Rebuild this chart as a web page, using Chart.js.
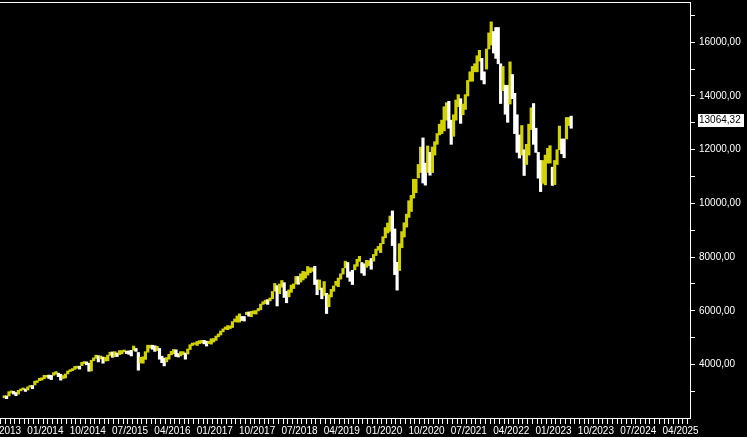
<!DOCTYPE html>
<html>
<head>
<meta charset="utf-8">
<script src="https://cdn.jsdelivr.net/npm/chart.js@4.4.1/dist/chart.umd.min.js"></script>
<style>
html, body { margin: 0; padding: 0; background: #000; }
canvas { display: block; }
</style>
</head>
<body>
<canvas id="chart" width="747" height="437"></canvas>
<script>
// two bars per month (low..high), first bar = first half of 04/2013
var firstMonth = 3; // month index, 0 = 01/2013

var lows = [
    2760, 2730, 2830, 2940, 2900, 2840, 2900, 3020, 3060, 3000, 3050, 3160, 3100, 3240, 3330, 3400, 3420, 3470,
    3530, 3480, 3440, 3600, 3640, 3550, 3420, 3480, 3500, 3650, 3740, 3770, 3820, 3860, 3830, 3960, 4030, 3990, 3750, 3760, 4140, 4230, 4100, 4210,
    4050, 4130, 4140, 4340, 4270, 4290, 4300, 4370, 4400, 4470, 4410, 4380, 4320, 4530, 4490, 3790, 4060, 4050, 4190, 4460, 4610, 4570, 4490, 4520,
    4200, 4070, 3950, 4100, 4200, 4360, 4400, 4300, 4280, 4320, 4370, 4200, 4390, 4560, 4710, 4750, 4710, 4780, 4800, 4770, 4690, 4780, 4760, 4840,
    4900, 5030, 5100, 5220, 5310, 5300, 5340, 5380, 5590, 5580, 5580, 5640, 5620, 5860, 5800, 5780, 5890, 5880, 6000, 6040, 6240, 6270, 6240, 6370,
    6450, 6730, 6180, 6640, 6880, 6500, 6300, 6520, 6690, 6830, 7000, 6990, 7070, 7150, 7220, 7330, 7420, 7470, 6980, 6600, 6790, 6450, 6570, 5900,
    6150, 6520, 6730, 6950, 6900, 7180, 7370, 7600, 7250, 7100, 6980, 7530, 7660, 7840, 7410, 7320, 7620, 7680, 7550, 7850, 8060, 8260, 8170, 8500,
    8720, 8900, 8960, 8430, 7350, 6770, 7500, 8350, 8750, 9120, 9480, 9700, 10200, 10400, 10950, 11150, 10760, 10680, 11150, 11050, 11150, 11800, 12200, 12550,
    12600, 12700, 13100, 12800, 12200, 12500, 13100, 13600, 12980, 13300, 13500, 14000, 14550, 14550, 14900, 14900, 15300, 14600, 14450, 15000, 15750, 15900, 15600, 15400,
    15200, 13720, 14200, 13320, 13020, 13700, 13900, 12600, 11900, 11690, 11800, 11040, 11450, 11800, 12750, 12200, 11900, 10940, 10440, 10750, 10690, 11500, 11500, 10670,
    10700, 11450, 12000, 11850, 11700, 12400, 12900, 12800
];
var highs = [
    2840, 2835, 2990, 3020, 3000, 2960, 3040, 3090, 3130, 3090, 3170, 3220, 3220, 3380, 3400, 3490, 3510, 3600,
    3600, 3610, 3600, 3700, 3740, 3680, 3640, 3590, 3650, 3760, 3810, 3850, 3930, 3940, 3940, 4080, 4110, 4100, 4050, 4160, 4250, 4350, 4330, 4320,
    4280, 4270, 4350, 4460, 4470, 4480, 4430, 4520, 4520, 4540, 4500, 4510, 4530, 4690, 4600, 4450, 4270, 4290, 4480, 4720, 4720, 4720, 4700, 4680,
    4600, 4310, 4240, 4260, 4380, 4490, 4560, 4550, 4410, 4480, 4480, 4430, 4580, 4740, 4800, 4810, 4860, 4890, 4900, 4900, 4870, 4870, 4960, 4970,
    5060, 5140, 5250, 5330, 5400, 5450, 5440, 5600, 5700, 5810, 5890, 5790, 5790, 5950, 5960, 5980, 6000, 6010, 6090, 6250, 6340, 6400, 6420, 6480,
    6720, 7020, 6940, 7000, 7130, 7050, 6730, 6780, 6960, 7000, 7280, 7280, 7380, 7470, 7450, 7650, 7600, 7600, 7660, 7150, 7150, 6850, 7090, 6650,
    6600, 6800, 6930, 7100, 7220, 7380, 7580, 7850, 7800, 7450, 7510, 7720, 7920, 8030, 7800, 7750, 7880, 7870, 7950, 8100, 8300, 8400, 8510, 8760,
    9100, 9270, 9530, 9720, 9050, 7810, 8500, 8950, 9280, 9600, 10100, 10300, 10900, 10900, 11450, 12100, 12440, 11500, 12140, 11900, 12100, 12300, 12600, 12950,
    13100, 13600, 13750, 13800, 13100, 13300, 13850, 14050, 13900, 13700, 14050, 14580, 14900, 15100, 15200, 15500, 15700, 15400, 14900, 15750, 16350, 16760, 16400, 16550,
    16550, 15200, 15100, 14400, 14400, 15270, 14800, 14100, 13300, 12550, 12900, 12000, 12200, 12950, 13560, 13720, 12800, 11900, 11600, 11600, 11800, 12050, 12150, 11350,
    11600, 12000, 12880, 12400, 12400, 13200, 13200, 13250
];

var lastPrice = 13064.32;
var xLabels = ['04/2013', '01/2014', '10/2014', '07/2015', '04/2016', '01/2017', '10/2017', '07/2018',
    '04/2019', '01/2020', '10/2020', '07/2021', '04/2022', '01/2023', '10/2023', '07/2024', '04/2025'];
var yTicks = [3000, 4000, 5000, 6000, 7000, 8000, 9000, 10000, 11000, 12000, 13000, 14000, 15000, 16000, 17000];

var yellow = '#d2d200';
var white = '#ffffff';
var font = { family: '"Liberation Sans", Arial, sans-serif', size: 10 };

var bars = [];
var colors = [];
for (var i = 0; i < lows.length; i++) {
    bars.push({ x: firstMonth + 0.25 + i * 0.5, y: [lows[i], highs[i]] });
    var up = i === 0 || lows[i] + highs[i] >= lows[i - 1] + highs[i - 1];
    colors.push(up ? yellow : white);
}

var framePlugin = {
    id: 'frame',
    afterDraw: function(chart) {
        var ctx = chart.ctx;
        var a = chart.chartArea;
        ctx.save();
        ctx.strokeStyle = '#fff';
        ctx.lineWidth = 1;
        ctx.beginPath();
        ctx.moveTo(a.left, a.top + 0.5);
        ctx.lineTo(a.right, a.top + 0.5);
        ctx.stroke();

        // last price box
        var y = chart.scales.y.getPixelForValue(lastPrice) - 1;
        ctx.fillStyle = '#fff';
        ctx.fillRect(a.right + 8, Math.round(y - 6.5), 46, 13);
        ctx.fillStyle = '#000';
        ctx.font = '10px "Liberation Sans", Arial, sans-serif';
        ctx.textBaseline = 'middle';
        ctx.fillText(lastPrice.toFixed(2).replace('.', ','), a.right + 9, y + 0.5);
        ctx.restore();
    }
};

var ctx = document.getElementById('chart').getContext('2d');
var myChart = new Chart(ctx, {
    type: 'bar',
    data: {
        datasets: [{
            data: bars,
            backgroundColor: colors,
            borderWidth: 0,
            barThickness: 2.5,
            grouped: false
        }]
    },
    options: {
        responsive: false,
        animation: false,
        layout: { padding: { top: 2, left: 0, right: 0, bottom: 0 } },
        plugins: {
            legend: { display: false },
            tooltip: { enabled: false }
        },
        scales: {
            x: {
                type: 'linear',
                min: 2.85,
                max: 148.5,
                grid: { drawOnChartArea: false, color: '#fff', tickLength: 6 },
                border: { color: '#fff' },
                afterBuildTicks: function(scale) {
                    var t = [];
                    for (var m = 3; m <= 148; m++) t.push({ value: m });
                    scale.ticks = t;
                },
                afterFit: function(scale) {
                    scale.height = 19;
                    scale.paddingLeft = 0;
                    scale.paddingRight = 0;
                },
                ticks: {
                    color: '#fff',
                    font: font,
                    padding: 1,
                    autoSkip: false,
                    maxRotation: 0,
                    minRotation: 0,
                    callback: function(v) {
                        return (v - 3) % 9 === 0 ? xLabels[(v - 3) / 9] : '';
                    }
                }
            },
            y: {
                position: 'right',
                min: 2010,
                max: 17500,
                grid: { drawOnChartArea: false, color: '#fff', tickLength: 5 },
                border: { color: '#fff' },
                afterBuildTicks: function(scale) {
                    scale.ticks = yTicks.map(function(v) { return { value: v }; });
                },
                afterFit: function(scale) {
                    scale.width = 57;
                    scale.paddingTop = 0;
                    scale.paddingBottom = 0;
                },
                ticks: {
                    color: '#fff',
                    font: font,
                    padding: 4,
                    callback: function(v) {
                        return v % 2000 === 0 ? v + ',00' : '';
                    }
                }
            }
        }
    },
    plugins: [framePlugin]
});
</script>
</body>
</html>
